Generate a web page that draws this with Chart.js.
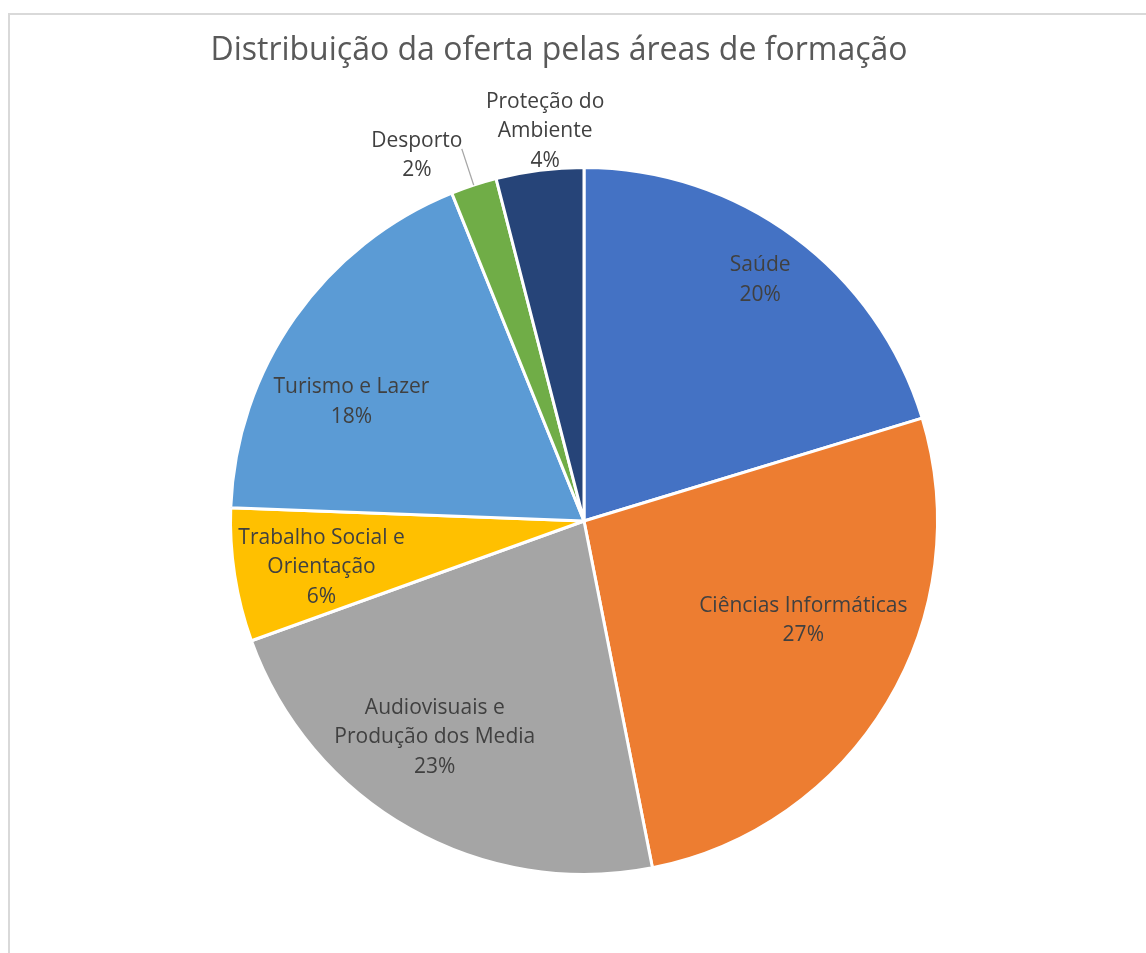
<!DOCTYPE html>
<html>
<head>
<meta charset="utf-8">
<script src="https://cdn.jsdelivr.net/npm/chart.js@4.4.0/dist/chart.umd.min.js"></script>
<style>
  html, body { margin: 0; padding: 0; background: #ffffff; }
  #wrap { width: 1146px; height: 953px; position: relative; }
</style>
</head>
<body>
<div id="wrap"><canvas id="c" width="1146" height="953"></canvas></div>
<script>
// ---- data ----
const titleText = "Distribuição da oferta pelas áreas de formação";
const categories = [
  ["Saúde"],
  ["Ciências Informáticas"],
  ["Audiovisuais e", "Produção dos Media"],
  ["Trabalho Social e", "Orientação"],
  ["Turismo e Lazer"],
  ["Desporto"],
  ["Proteção do", "Ambiente"]
];
const values = [20.3, 26.6, 22.6, 6.1, 18.3, 2.1, 4.0];
const colors = ["#4472C4", "#ED7D31", "#A5A5A5", "#FFC000", "#5B9BD5", "#70AD47", "#264478"];

// ---- label placement style (radial fraction, angular shift in degrees, leader line) ----
const labelRadius = [0.845, 0.681, 0.743, 0.754, 0.739, 1.137, 1.108];
const labelShift  = [-0.4, -6.6, 5.1, -1.2, -8.0, -6.4, 1.5];
const labelLeader = [false, false, false, false, false, true, false];

const FONT = "'Open Sans', 'Noto Sans', sans-serif";

const framePlugin = {
  id: 'frame',
  beforeDraw(chart) {
    const ctx = chart.ctx;
    ctx.save();
    ctx.fillStyle = '#ffffff';
    ctx.fillRect(0, 0, chart.width, chart.height);
    ctx.strokeStyle = '#d9d9d9';
    ctx.lineWidth = 2;
    ctx.beginPath();
    ctx.moveTo(9, chart.height + 2);
    ctx.lineTo(9, 14);
    ctx.lineTo(chart.width + 2, 14);
    ctx.stroke();
    // title
    ctx.fillStyle = '#595959';
    ctx.font = "32px " + FONT;
    ctx.textAlign = 'center';
    ctx.textBaseline = 'middle';
    ctx.fillText(titleText, 559, 51);
    ctx.restore();
  }
};

const labelPlugin = {
  id: 'sliceLabels',
  afterDatasetsDraw(chart) {
    const ctx = chart.ctx;
    const meta = chart.getDatasetMeta(0);
    const data = chart.data.datasets[0].data;
    const total = data.reduce((a, b) => a + b, 0);
    ctx.save();
    ctx.font = "21px " + FONT;
    ctx.fillStyle = '#404040';
    ctx.textAlign = 'center';
    ctx.textBaseline = 'middle';
    const lineH = 29.5;
    meta.data.forEach((arc, i) => {
      const p = arc.getProps(['x', 'y', 'startAngle', 'endAngle', 'outerRadius'], true);
      const mid = (p.startAngle + p.endAngle) / 2;
      const a = mid + labelShift[i] * Math.PI / 180;
      const r = p.outerRadius * labelRadius[i];
      const cx = p.x + Math.cos(a) * r;
      const cy = p.y + Math.sin(a) * r;
      const pct = Math.round(data[i] / total * 100) + '%';
      const lines = categories[i].concat([pct]);
      const y0 = cy - (lines.length - 1) * lineH / 2;
      lines.forEach((t, k) => ctx.fillText(t, cx, y0 + k * lineH));
      if (labelLeader[i]) {
        ctx.strokeStyle = '#a6a6a6';
        ctx.lineWidth = 1.3;
        ctx.beginPath();
        ctx.moveTo(p.x + Math.cos(mid) * p.outerRadius * 1.108, p.y + Math.sin(mid) * p.outerRadius * 1.108);
        ctx.lineTo(p.x + Math.cos(mid) * p.outerRadius, p.y + Math.sin(mid) * p.outerRadius);
        ctx.stroke();
      }
    });
    ctx.restore();
  }
};

new Chart(document.getElementById('c'), {
  type: 'pie',
  data: {
    labels: categories,
    datasets: [{
      data: values,
      backgroundColor: colors,
      borderColor: '#ffffff',
      borderWidth: 3
    }]
  },
  options: {
    responsive: false,
    animation: false,
    layout: { padding: { left: 229, right: 207, top: 166, bottom: 77 } },
    plugins: {
      legend: { display: false },
      title: { display: false },
      tooltip: { enabled: false }
    }
  },
  plugins: [framePlugin, labelPlugin]
});
</script>
</body>
</html>
